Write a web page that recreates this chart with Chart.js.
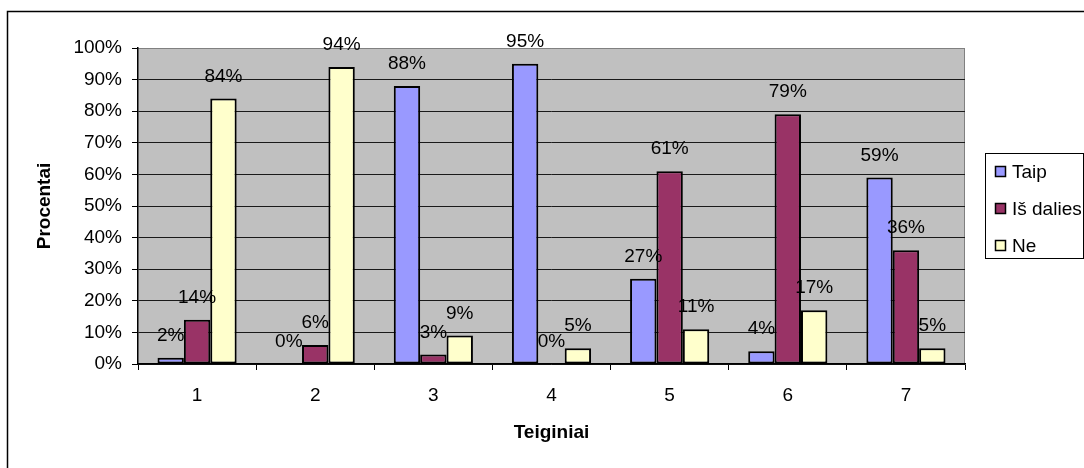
<!DOCTYPE html>
<html lang="lt">
<head>
<meta charset="utf-8">
<title>Teiginiai</title>
<script src="https://cdn.jsdelivr.net/npm/chart.js@4/dist/chart.umd.min.js"></script>
<style>
  html, body { margin: 0; padding: 0; background: #fff; }
  #wrap { width: 1084px; height: 468px; }
</style>
</head>
<body>
<div id="wrap"><canvas id="c" width="1084" height="468"></canvas></div>
<script>
// Statement numbers and answer shares (percent)
const categories = ['1', '2', '3', '4', '5', '6', '7'];
const seriesNames = ['Taip', 'Iš dalies', 'Ne'];
const taip = [2, 0, 88, 95, 27, 4, 59];
const isDalies = [14, 6, 3, 0, 61, 79, 36];
const ne = [84, 94, 9, 5, 11, 17, 5];
const yTicks = [0, 10, 20, 30, 40, 50, 60, 70, 80, 90, 100];

const colors = ['#9999FF', '#993366', '#FFFFCC'];
const FONT = '"Liberation Sans", Arial, Helvetica, sans-serif';

// Frame, plot background, value labels, axis titles and legend
const decor = {
  id: 'decor',
  beforeDraw(chart) {
    const { ctx, chartArea: a } = chart;
    ctx.save();
    ctx.fillStyle = '#fff';
    ctx.fillRect(0, 0, chart.width, chart.height);
    ctx.strokeStyle = '#000';
    ctx.lineWidth = 1.5;
    ctx.strokeRect(7.5, 11.5, 1200, 600);
    ctx.fillStyle = '#C0C0C0';
    ctx.fillRect(a.left, a.top, a.right - a.left, a.bottom - a.top);
    ctx.strokeStyle = '#808080';
    ctx.lineWidth = 1;
    ctx.beginPath();
    ctx.moveTo(a.left, a.top + 0.5);
    ctx.lineTo(a.right - 0.5, a.top + 0.5);
    ctx.lineTo(a.right - 0.5, a.bottom);
    ctx.stroke();
    ctx.restore();
  },
  afterDatasetsDraw(chart) {
    const { ctx } = chart;
    ctx.save();
    ctx.font = '19px ' + FONT;
    ctx.fillStyle = '#000';
    ctx.textAlign = 'center';
    ctx.textBaseline = 'alphabetic';
    chart.data.datasets.forEach((ds, i) => {
      chart.getDatasetMeta(i).data.forEach((bar, j) => {
        ctx.fillText(ds.data[j] + '%', bar.x, bar.y - 17);
      });
    });
    ctx.restore();
  },
  afterDraw(chart) {
    const { ctx, chartArea: a } = chart;
    ctx.save();
    ctx.fillStyle = '#000';
    ctx.font = 'bold 19px ' + FONT;
    ctx.textAlign = 'center';
    ctx.textBaseline = 'middle';
    ctx.fillText('Teiginiai', (a.left + a.right) / 2, 433);
    ctx.translate(45, (a.top + a.bottom) / 2);
    ctx.rotate(-Math.PI / 2);
    ctx.fillText('Procentai', 0, 0);
    ctx.restore();

    // legend
    ctx.save();
    ctx.strokeStyle = '#000';
    ctx.lineWidth = 1;
    ctx.fillStyle = '#fff';
    ctx.fillRect(985.5, 153.5, 98, 105);
    ctx.strokeRect(985.5, 153.5, 98, 105);
    ctx.font = '19px ' + FONT;
    ctx.textAlign = 'left';
    ctx.textBaseline = 'middle';
    ctx.lineWidth = 1.5;
    chart.data.datasets.forEach((ds, i) => {
      const cy = 171.5 + i * 37;
      ctx.fillStyle = ds.backgroundColor;
      ctx.fillRect(995.5, cy - 5, 10, 10);
      ctx.strokeRect(995.5, cy - 5, 10, 10);
      ctx.fillStyle = '#000';
      ctx.fillText(ds.label, 1012, cy + 1);
    });
    ctx.restore();
  }
};

new Chart(document.getElementById('c'), {
  type: 'bar',
  data: {
    labels: categories,
    datasets: [taip, isDalies, ne].map((vals, i) => ({
      label: seriesNames[i],
      data: vals,
      backgroundColor: colors[i],
      borderColor: '#000',
      borderWidth: 2,
      borderSkipped: false,
      categoryPercentage: 0.67,
      barPercentage: 1.0
    }))
  },
  options: {
    responsive: false,
    animation: false,
    devicePixelRatio: 1,
    layout: { padding: { top: 48, right: 119, left: 0, bottom: 0 } },
    plugins: { legend: { display: false }, tooltip: { enabled: false } },
    scales: {
      x: {
        afterFit(scale) { scale.height = 104; },
        grid: {
          display: true, drawOnChartArea: false, drawTicks: true,
          tickLength: 6, color: '#000', offset: true
        },
        border: { color: '#000', width: 1.5 },
        ticks: { color: '#000', font: { family: FONT, size: 19 }, padding: 14 }
      },
      y: {
        min: 0, max: 100,
        afterFit(scale) { scale.width = 138; },
        afterBuildTicks(scale) { scale.ticks = yTicks.map(v => ({ value: v })); },
        grid: {
          color: (c) => (c.tick && c.tick.value === 100 ? '#808080' : '#1a1a1a'),
          tickColor: '#000',
          tickLength: 6,
          lineWidth: 1
        },
        border: { color: '#000', width: 1.5 },
        ticks: {
          color: '#000', font: { family: FONT, size: 19 }, padding: 10,
          callback: (v) => v + '%'
        }
      }
    }
  },
  plugins: [decor]
});
</script>
</body>
</html>
